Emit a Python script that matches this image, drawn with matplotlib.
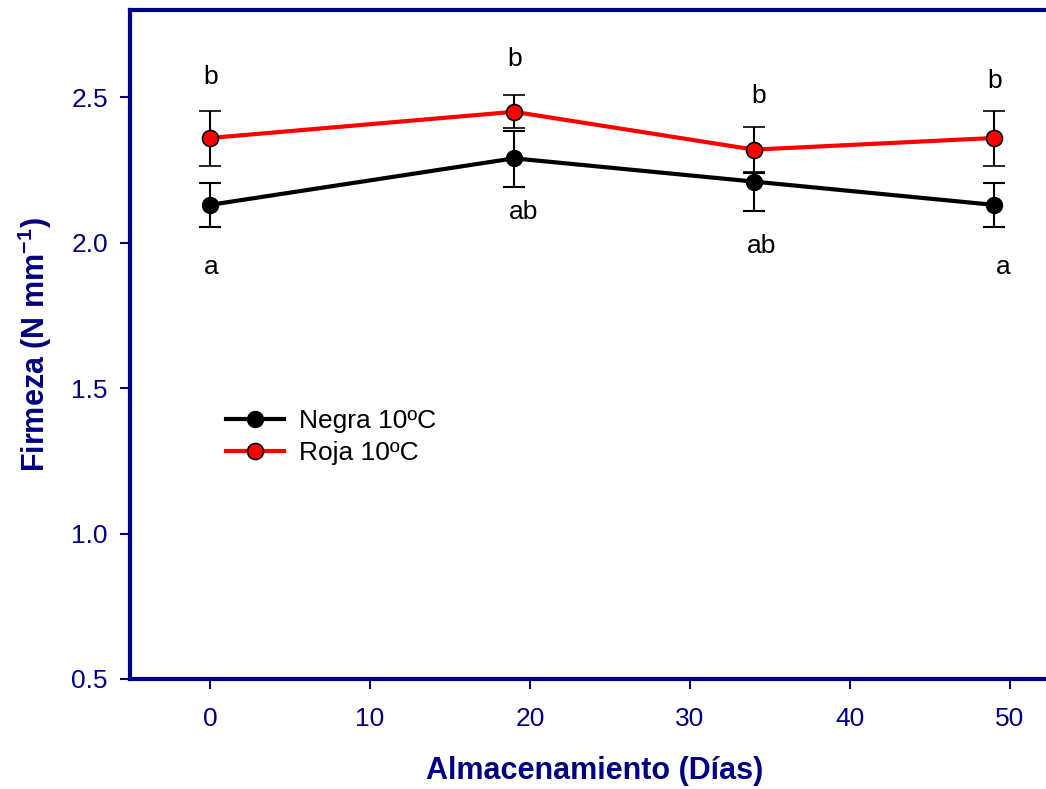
import matplotlib
matplotlib.use("Agg")
import matplotlib.pyplot as plt
from matplotlib.lines import Line2D
import numpy as np

plt.rcParams["font.family"] = ["Liberation Sans", "DejaVu Sans"]
plt.rcParams["mathtext.fontset"] = "custom"
plt.rcParams["mathtext.rm"] = "Liberation Sans:bold"
plt.rcParams["mathtext.default"] = "rm"

# data
days = [0, 19, 34, 49]
negra = [2.13, 2.29, 2.21, 2.13]
negra_err_lo = [0.075, 0.10, 0.10, 0.075]
negra_err_hi = [0.075, 0.095, 0.03, 0.075]
roja = [2.36, 2.45, 2.32, 2.36]
roja_err_lo = [0.095, 0.057, 0.077, 0.095]
roja_err_hi = [0.092, 0.057, 0.077, 0.092]

# significance letters and where they sit
roja_letters = ["b", "b", "b", "b"]
roja_letter_x = [0.05, 19.05, 34.3, 49.05]
roja_letter_y = [2.57, 2.63, 2.505, 2.555]
negra_letters = ["a", "ab", "ab", "a"]
negra_letter_x = [0.05, 19.6, 34.5, 49.6]
negra_letter_y = [1.915, 2.105, 1.988, 1.915]

navy = "#000080"

fig = plt.figure(figsize=(10.46, 7.89), dpi=100)
ax = fig.add_axes([130 / 1046, 1 - 679 / 789, 1 - 130 / 1046, 669 / 789])

ax.errorbar(days, negra, yerr=[negra_err_lo, negra_err_hi], color="black", lw=3,
            marker="o", markersize=11.5, markerfacecolor="black", markeredgecolor="black",
            ecolor="black", elinewidth=1.5, capsize=8, capthick=1.5, zorder=3)
ax.errorbar(days, roja, yerr=[roja_err_lo, roja_err_hi], color="#ff0000", lw=3,
            marker="o", markersize=11.5, markerfacecolor="#ff0000", markeredgecolor="black",
            markeredgewidth=1.2, ecolor="black", elinewidth=1.5, capsize=8, capthick=1.5,
            zorder=4)

for t, x, y in zip(roja_letters, roja_letter_x, roja_letter_y):
    ax.text(x, y, t, ha="center", va="center", fontsize=19, color="black")
for t, x, y in zip(negra_letters, negra_letter_x, negra_letter_y):
    ax.text(x, y, t, ha="center", va="center", fontsize=19, color="black")

ax.set_xlim(-5, 52.25)
ax.set_ylim(0.5, 2.8)
ax.set_xticks([0, 10, 20, 30, 40, 50])
ax.set_yticks([0.5, 1.0, 1.5, 2.0, 2.5])
ax.set_yticklabels(["0.5", "1.0", "1.5", "2.0", "2.5"])

for s in ["left", "bottom", "top"]:
    ax.spines[s].set_color(navy)
    ax.spines[s].set_linewidth(3)
ax.spines["right"].set_visible(False)

ax.tick_params(axis="both", colors=navy, labelsize=19, length=7, width=1.5, direction="out")
ax.tick_params(axis="x", pad=13)
ax.tick_params(axis="y", pad=9)

fig.text(595 / 1046, 1 - 771 / 789, "Almacenamiento (Días)", ha="center", va="center",
         fontsize=22, fontweight="bold", color=navy)
fig.text(35 / 1046, 1 - 345 / 789, "Firmeza (N mm$^{-1}$)", ha="center", va="center",
         rotation=90, fontsize=22, fontweight="bold", color=navy)

handles = [
    Line2D([], [], color="black", lw=3, marker="o", markersize=11.5,
           markerfacecolor="black", markeredgecolor="black"),
    Line2D([], [], color="#ff0000", lw=3, marker="o", markersize=11.5,
           markerfacecolor="#ff0000", markeredgecolor="black", markeredgewidth=1.2),
]
ax.legend(handles, ["Negra 10ºC", "Roja 10ºC"], loc="center left",
          bbox_to_anchor=(226 / 1046, 1 - 437 / 789),
          bbox_transform=fig.transFigure, frameon=False, fontsize=19,
          handlelength=2.2, handletextpad=0.55, labelspacing=0.3,
          borderpad=0, borderaxespad=0)

fig.savefig("out.png", dpi=100)
